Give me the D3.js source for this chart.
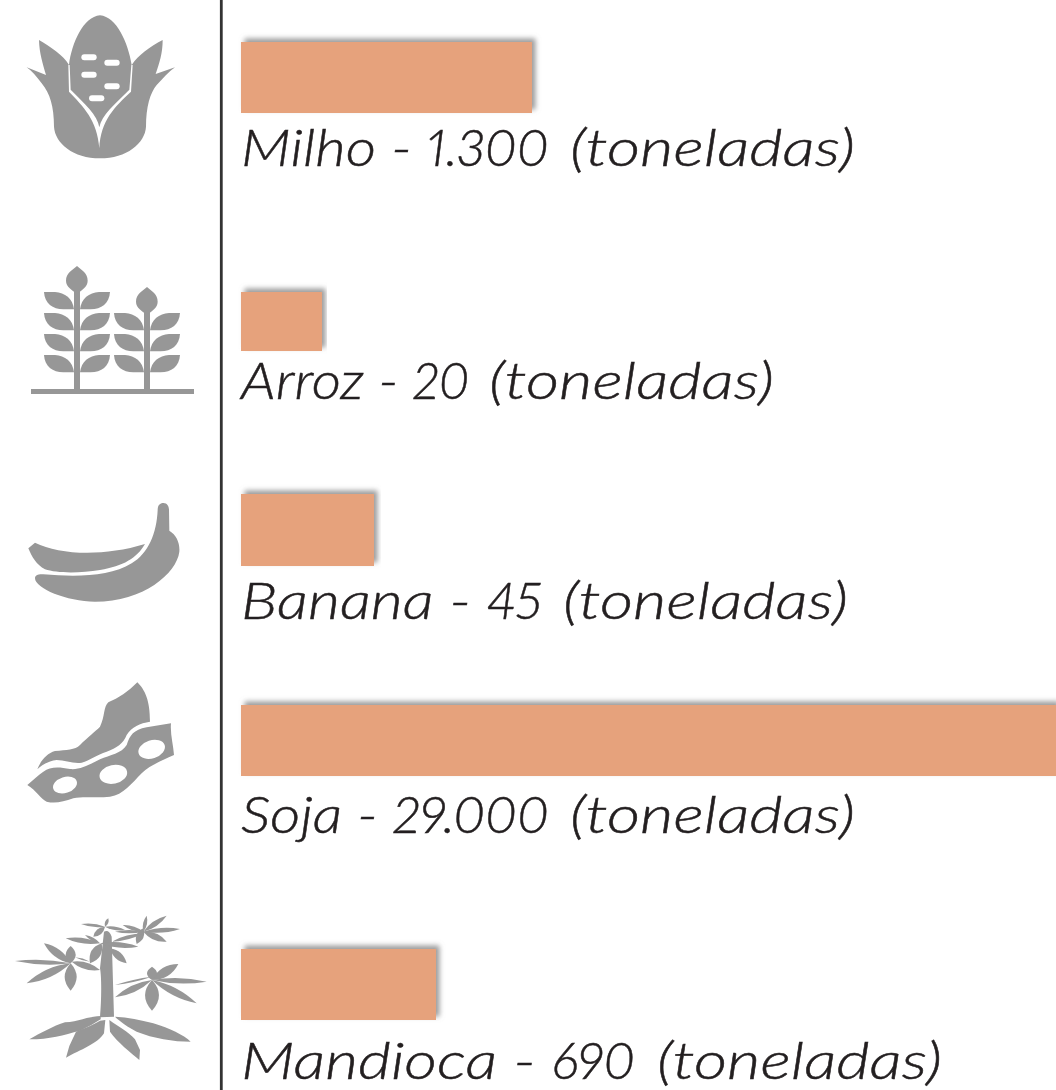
<!DOCTYPE html>
<html><head><meta charset="utf-8">
<script src="https://cdn.jsdelivr.net/npm/d3@7"></script>
<style>html,body{margin:0;padding:0;background:#fff;overflow:hidden}svg{display:block}</style>
</head><body><div id="chart"></div>
<script>
// Data
const categories = ["Milho","Arroz","Banana","Soja","Mandioca"];
const values = [1300,20,45,29000,690];
const unit = "toneladas";

const W=1056,H=1090, GREY="#979797", BAR="#e6a27b", INK="#231f20";
const svg=d3.select("#chart").append("svg").attr("width",W).attr("height",H).attr("viewBox",`0 0 ${W} ${H}`);
const f=svg.append("defs").append("filter").attr("id","sh").attr("x","-5%").attr("y","-20%").attr("width","110%").attr("height","140%");
f.append("feDropShadow").attr("dx",3.5).attr("dy",-3.5).attr("stdDeviation",2.4).attr("flood-color","#8a8a8a").attr("flood-opacity",0.85);

// The bars in the picture are not proportional to their labels: piecewise scale through the labelled values
const sorted=[...values].sort(d3.ascending);
const x=d3.scaleLinear().domain(sorted).range([81,133,195,291,815]);
const barTop=d3.scaleOrdinal(categories,[42,292,494,705,949]);
const barH=d3.scaleOrdinal(categories,[71,59,72,71,71]);
const base=d3.scaleOrdinal(categories,[166,399,619,833,1079]);
const numX=d3.scaleOrdinal(categories,[427,413,487,393,552]);
const numW=d3.scaleOrdinal(categories,[123,57,56,157,84]);
const unitX=d3.scaleOrdinal(categories,[570,489,563,570,657]);
const fmt=d3.formatLocale({decimal:",",thousands:".",grouping:[3],currency:["",""]}).format(",d");
const X0=241;
const rows=categories.map((c,i)=>({c,v:values[i]}));

svg.append("line").attr("x1",221.3).attr("x2",221.3).attr("y1",0).attr("y2",H).attr("stroke","#333").attr("stroke-width",2.8);

svg.selectAll("rect.bar").data(rows).join("rect").attr("class","bar")
 .attr("x",X0).attr("y",d=>barTop(d.c)).attr("width",d=>x(d.v)).attr("height",d=>barH(d.c))
 .attr("fill",BAR).attr("filter","url(#sh)");

const labs=svg.selectAll("text.lab").data(rows).join("text").attr("class","lab")
 .attr("y",d=>base(d.c))
 .attr("font-family","Lato, 'Open Sans', sans-serif").attr("font-style","italic").attr("font-weight",300)
 .attr("font-size",52).attr("fill",INK).attr("stroke",INK).attr("stroke-width",0.5)
 .style("font-variant-numeric","proportional-nums")
 .style("white-space","pre");
labs.append("tspan").attr("x",X0).attr("textLength",d=>numX(d.c)-X0).attr("lengthAdjust","spacingAndGlyphs").text(d=>`${d.c} - `);
labs.append("tspan").attr("x",d=>numX(d.c)).attr("textLength",d=>numW(d.c)+12).attr("lengthAdjust","spacingAndGlyphs").text(d=>`${fmt(d.v)} `);
labs.append("tspan").attr("x",d=>unitX(d.c)).attr("textLength",285).attr("lengthAdjust","spacingAndGlyphs").text(`(${unit})`);

// Icons: drawn in a 3x working grid, offset per row
const icon=(dy)=>svg.append("g").attr("transform",`translate(0,${dy}) scale(${1/3})`).attr("fill",GREY);

// Corn
{const g=icon(0);
 g.append("path").attr("d","M300,46 C250,50 215,130 207,195 C190,165 150,140 117,120 C118,160 128,190 138,225 L80,202 C95,212 110,230 125,250 C150,280 162,320 162,380 C165,430 220,475 300,475 C380,475 435,430 438,380 C438,320 450,280 470,255 C490,235 505,215 525,202 L467,222 C478,190 488,160 488,120 C450,140 415,165 395,195 C385,130 350,50 300,46Z");
 g.append("path").attr("fill","#fff").attr("d","M205,195 L207,275 C250,320 292,360 298,445 C302,360 345,320 393,275 L398,195 L394,195 L388,269 C345,312 305,345 298,382 C292,345 255,312 212,269 L209,195Z");
 [[244,163],[313,179],[244,215],[313,250],[267,286]].forEach(p=>g.append("rect").attr("x",p[0]).attr("y",p[1]).attr("width",46).attr("height",18).attr("rx",9).attr("fill","#fff"));
}
// Rice
{const g=icon(250);
 g.append("rect").attr("x",93).attr("y",417).attr("width",489).attr("height",15);
 const plant=(cx,levels,dh)=>{
  g.append("rect").attr("x",cx-9).attr("y",100+dh).attr("width",18).attr("height",317-dh);
  g.append("path").attr("transform",`translate(${cx},${dh})`).attr("d","M0,48 C14,60 32,70 32,92 C32,110 14,122 0,130 C-14,122 -33,110 -33,92 C-33,70 -14,60 0,48Z");
  levels.forEach(y=>[1,-1].forEach(s=>g.append("path").attr("transform",`translate(${cx},${y}) scale(${s},1)`)
    .attr("d","M-99,0 L-66,0 C-36,2 -13,19 -9,52 L-41,52 C-73,52 -97,34 -99,0Z")));
 };
 plant(231,[126,189,252,315],0);
 plant(441,[189,252,315],63);
}
// Banana
{const g=icon(490);
 g.append("path").attr("d","M85,175 L105,158 C180,195 310,200 435,162 C410,205 370,228 300,240 C240,250 170,250 135,238 C110,225 95,200 85,175Z");
 g.append("path").attr("d","M105,265 C105,255 115,252 130,253 C230,262 330,260 395,220 C445,190 470,130 473,60 C473,45 480,39 490,39 C502,39 507,50 507,60 L508,122 C530,135 540,160 538,185 C530,250 430,335 285,335 C200,335 105,295 105,265Z");
}
// Soy
{const g=icon(670);
 g.append("path").attr("d","M412,37 C435,60 450,90 450,155 C420,160 395,170 380,195 C370,220 350,235 320,245 C290,255 270,270 245,278 C220,282 195,270 170,270 C145,273 125,285 112,298 C120,275 140,250 165,243 C200,240 225,240 240,225 C265,200 285,185 300,170 C315,140 310,110 325,97 C355,85 385,65 412,37Z");
 g.append("path").attr("d","M82,345 C100,330 115,315 130,305 C150,290 175,290 210,297 C240,300 265,285 300,268 C330,255 365,250 380,225 C390,195 400,180 440,172 L513,160 C510,190 520,225 522,255 C490,270 450,285 425,310 C395,340 370,375 330,380 C290,385 250,378 220,385 C190,395 165,402 140,395 C120,385 110,362 82,345Z");
 [[195,345,37,24,-18],[340,313,42,28,-12],[455,238,41,27,-18]].forEach(e=>g.append("ellipse").attr("transform",`rotate(${e[4]} ${e[0]} ${e[1]})`).attr("cx",e[0]).attr("cy",e[1]).attr("rx",e[2]).attr("ry",e[3]).attr("fill","#fff"));
}
// Cassava
{const g=icon(900);
 const leaf=(a,b,c,d,w)=>{const mx=(a+c)/2,my=(b+d)/2,dx=c-a,dy=d-b,l=Math.hypot(dx,dy),nx=-dy/l*w,ny=dx/l*w;
  g.append("path").attr("d",`M${a},${b} Q${mx+nx},${my+ny} ${c},${d} Q${mx-nx},${my-ny} ${a},${b}Z`);};
 g.append("path").attr("d","M300,352 C305,300 305,230 300,205 L312,95 C322,90 330,95 335,110 L342,350Z");
 g.append("path").attr("d","M302,348 C260,350 235,365 195,367 C160,378 120,400 88,418 C150,418 190,405 240,392 C265,382 285,368 302,358Z");
 g.append("path").attr("d","M300,362 C280,375 250,385 228,395 L208,438 L198,473 C240,450 295,430 312,400 L316,360Z");
 g.append("path").attr("d","M328,360 L330,395 C350,425 395,460 418,480 L420,450 L405,418 C385,395 355,380 328,360Z");
 g.append("path").attr("d","M345,350 C385,352 420,360 460,370 C510,385 550,405 572,425 C520,425 460,415 410,395 C385,382 360,365 345,350Z");
 [[212,190,45,183,14],[212,190,80,250,24],[212,190,132,130,24],[212,190,212,138,30],[212,190,212,272,36],[215,185,300,210,20],[225,172,270,185,5],
  [456,240,620,245,16],[456,240,590,310,22],[456,240,535,192,28],[456,240,345,292,20],[345,255,456,230,6],[456,240,456,200,30],[456,240,456,332,42],
  [430,95,540,87,14],[430,95,500,125,20],[430,95,500,47,16],[430,95,368,75,12],[430,95,345,95,10],[430,85,410,132,22],[430,95,440,47,12],[335,125,430,100,12],
  [315,80,243,72,10],[315,80,375,90,10],[315,80,325,55,10],[315,80,280,110,18],
  [300,130,197,115,16],[300,130,415,140,16],[330,145,380,190,22],[305,130,270,190,30],[300,130,255,105,10]
 ].forEach(l=>leaf(...l));
}
</script></body></html>
